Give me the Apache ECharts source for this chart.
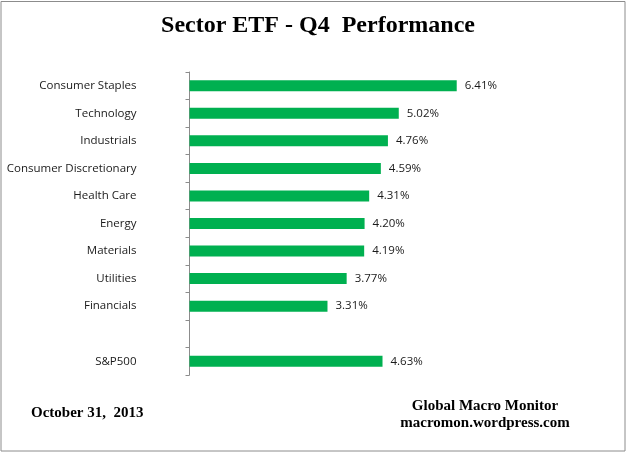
<!DOCTYPE html>
<html>
<head>
<meta charset="utf-8">
<script src="https://cdn.jsdelivr.net/npm/echarts@6/dist/echarts.min.js"></script>
<style>
html,body{margin:0;padding:0;background:#fff;}
#chart{width:628px;height:453px;}
</style>
</head>
<body>
<div id="chart"></div>
<script>
var categories = ['Consumer Staples','Technology','Industrials','Consumer Discretionary','Health Care','Energy','Materials','Utilities','Financials','','S&P500'];
var values = [6.41, 5.02, 4.76, 4.59, 4.31, 4.20, 4.19, 3.77, 3.31, null, 4.63];

var chart = echarts.init(document.getElementById('chart'), null, {renderer:'canvas'});
chart.setOption({
  backgroundColor: '#ffffff',
  animation: false,
  title: {
    text: 'Sector ETF - Q4  Performance',
    left: 313, top: 9, textAlign: 'center',
    textStyle: {fontFamily: 'Liberation Serif', fontWeight: 'bold', fontSize: 24, color: '#000'}
  },
  grid: {left: 189.5, right: 105, top: 72, bottom: 78, containLabel: false},
  xAxis: {
    type: 'value', min: 0, max: 8, show: false
  },
  yAxis: {
    type: 'category', inverse: true, data: categories,
    axisLine: {show: true, lineStyle: {color: '#8c8c8c', width: 1}},
    axisTick: {show: true, inside: false, length: 4, lineStyle: {color: '#8c8c8c'}},
    axisLabel: {margin: 53, fontFamily: 'Open Sans', fontSize: 11.5, color: '#1a1a1a'}
  },
  series: [{
    type: 'bar', data: values, barCategoryGap: '60%',
    itemStyle: {color: '#00b050'},
    label: {show: true, position: 'right', distance: 8, fontFamily: 'Open Sans', fontSize: 11.5, color: '#1a1a1a',
      formatter: function(p){ return p.value == null ? '' : p.value.toFixed(2) + '%'; }}
  }],
  graphic: [
    {type: 'rect', shape: {x: 1, y: 1.5, width: 624, height: 449.5}, style: {fill: 'none', stroke: '#8c8c8c', lineWidth: 1}, silent: true},
    {type: 'text', x: 31, y: 413, style: {text: 'October 31,  2013', font: 'bold 15px "Liberation Serif"', fill: '#000', textVerticalAlign: 'middle'}},
    {type: 'text', x: 485, y: 414.5, style: {text: 'Global Macro Monitor\nmacromon.wordpress.com', font: 'bold 15px "Liberation Serif"', fill: '#000', textAlign: 'center', textVerticalAlign: 'middle', lineHeight: 17}}
  ]
});
</script>
</body>
</html>
